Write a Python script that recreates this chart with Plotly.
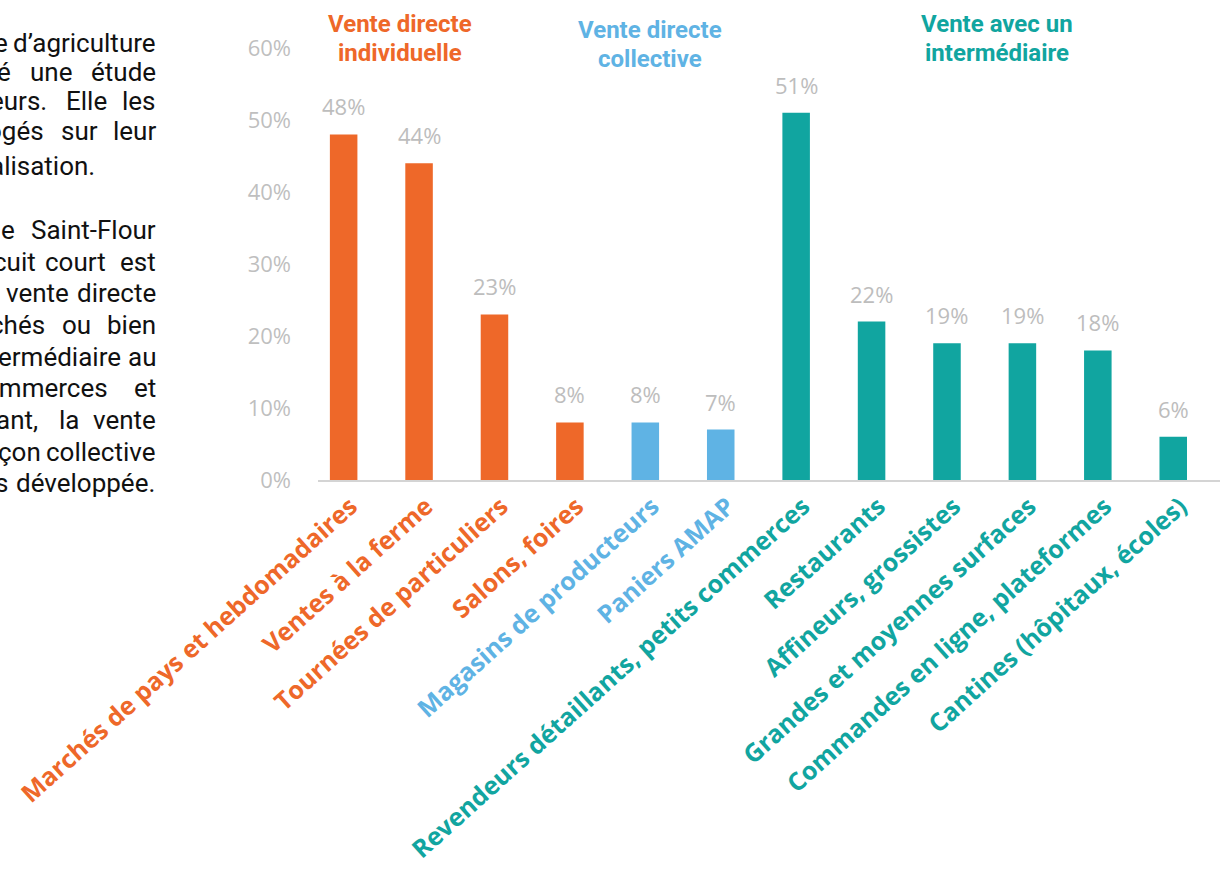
import plotly.graph_objects as go

# Modes de commercialisation en circuit court (% des producteurs)
categories = [
    "Marchés de pays et hebdomadaires",
    "Ventes à la ferme",
    "Tournées de particuliers",
    "Salons, foires",
    "Magasins de producteurs",
    "Paniers AMAP",
    "Revendeurs détaillants, petits commerces",
    "Restaurants",
    "Affineurs, grossistes",
    "Grandes et moyennes surfaces",
    "Commandes en ligne, plateformes",
    "Cantines (hôpitaux, écoles)",
]
shares = [48, 44, 23, 8, 8, 7, 51, 22, 19, 19, 18, 6]
groups = ["individuelle"] * 4 + ["collective"] * 2 + ["intermediaire"] * 6

group_colors = {
    "individuelle": "#EE6829",
    "collective": "#5FB3E4",
    "intermediaire": "#11A5A0",
}
group_titles = {
    "individuelle": ["Vente directe", "individuelle"],
    "collective": ["Vente directe", "collective"],
    "intermediaire": ["Vente avec un", "intermédiaire"],
}

y_ticks = [0, 10, 20, 30, 40, 50, 60]
y_tick_labels = ["0%", "10%", "20%", "30%", "40%", "50%", "60%"]

# Paragraphe justifié à gauche du graphique, coupé par le bord de la page
text_lines_1 = [
    ["e", "d’agriculture"],
    ["é", "une", "étude"],
    ["eurs.", "Elle", "les"],
    ["ogés", "sur", "leur"],
    ["alisation."],
]
text_lines_2 = [
    ["e", "Saint-Flour"],
    ["cuit", "court", "est"],
    ["vente", "directe"],
    ["chés", "ou", "bien"],
    ["ermédiaire", "au"],
    ["ommerces", "et"],
    ["ant,", "la", "vente"],
    ["çon", "collective"],
    ["s", "développée."],
]

W, H = 1220, 891
ML, MR, MT, MB = 318, 0, 48, 411


def px_x(x):
    return (x - ML) / (W - ML - MR)


def px_y(y):
    return (H - MB - y) / (H - MT - MB)


# Chasse approximative des glyphes Roboto Regular (en em) pour la justification
ROBOTO_ADV = {
    "a": .544, "b": .549, "c": .522, "d": .552, "e": .528, "f": .347,
    "g": .549, "h": .538, "i": .237, "l": .237, "m": .855, "n": .539,
    "o": .557, "p": .549, "r": .331, "s": .516, "t": .319, "u": .538,
    "v": .473, "é": .528, "ç": .522, "E": .52, "S": .58, "F": .508,
    ".": .263, ",": .192, "-": .27, "’": .196,
}


def text_width(word, size):
    return size * sum(ROBOTO_ADV.get(ch, .55) for ch in word)


bar_colors = [group_colors[g] for g in groups]
tick_text = [
    f"<span style='color:{group_colors[g]}'>{c}</span>"
    for c, g in zip(categories, groups)
]

fig = go.Figure()
fig.add_trace(
    go.Bar(
        x=categories,
        y=shares,
        marker=dict(color=bar_colors, line=dict(width=0)),
        width=0.365,
        hoverinfo="x+y",
    )
)

annotations = []
# Valeurs au-dessus des barres
for c, v in zip(categories, shares):
    annotations.append(
        dict(
            x=c, y=v, xref="x", yref="y",
            text=f"{v}%", showarrow=False,
            yanchor="middle", yshift=28,
            font=dict(family="Open Sans", size=22, color="#BDBDBD"),
        )
    )

# Titres des groupes
header_pos = {
    "individuelle": (400, 24),
    "collective": (650, 30),
    "intermediaire": (997, 24),
}
for g, (hx, hy) in header_pos.items():
    for i, line in enumerate(group_titles[g]):
        annotations.append(
            dict(
                x=px_x(hx), y=px_y(hy + 29 * i), xref="paper", yref="paper",
                text=f"<b>{line}</b>", showarrow=False,
                xanchor="center", yanchor="middle",
                font=dict(family="Roboto", size=24, color=group_colors[g]),
            )
        )

# Paragraphe de gauche : mots posés de droite à gauche avec l'espacement justifié
PARA_SIZE = 26
para_font = dict(family="Roboto", size=PARA_SIZE, color="#111111")
para_1_y = [43, 72, 101, 131, 166]
para_1_right = [158, 158, 158, 158, 97]
para_1_gaps = [[7], [19, 20], [20, 16], [18, 16], []]
para_2_y = [230, 262, 293, 325, 357, 388, 420, 452, 483]
para_2_right = [158] * 8 + [157]
para_2_gaps = [[20], [11, 15], [9], [17, 17], [7], [26], [21, 15], [7], [9]]

for lines, ys, rights, gaps in ((text_lines_1, para_1_y, para_1_right, para_1_gaps),
                                (text_lines_2, para_2_y, para_2_right, para_2_gaps)):
    for words, ly, xr, gp in zip(lines, ys, rights, gaps):
        x = xr
        for j in range(len(words) - 1, -1, -1):
            annotations.append(
                dict(
                    x=px_x(x), y=px_y(ly), xref="paper", yref="paper",
                    text=words[j], showarrow=False,
                    xanchor="right", yanchor="middle", font=para_font,
                )
            )
            if j > 0:
                x -= text_width(words[j], PARA_SIZE) + gp[j - 1]

fig.update_layout(
    width=W,
    height=H,
    margin=dict(l=ML, r=MR, t=MT, b=MB, autoexpand=False),
    plot_bgcolor="white",
    paper_bgcolor="white",
    showlegend=False,
    annotations=annotations,
    xaxis=dict(
        type="category",
        range=[-0.34, 11.62],
        tickvals=categories,
        ticktext=tick_text,
        tickangle=-42,
        tickfont=dict(family="Open Sans", size=25, weight="bold"),
        ticklabelshift=7,
        showline=True,
        linecolor="#D4D4D4",
        linewidth=2,
        showgrid=False,
        ticks="",
        fixedrange=True,
    ),
    yaxis=dict(
        range=[0, 60],
        tickvals=y_ticks,
        ticktext=y_tick_labels,
        tickfont=dict(family="Open Sans", size=22, color="#BFBFBF"),
        showgrid=False,
        zeroline=False,
        showline=False,
        ticks="",
        ticklabelstandoff=26,
        fixedrange=True,
    ),
)

fig.write_html("out.html")
